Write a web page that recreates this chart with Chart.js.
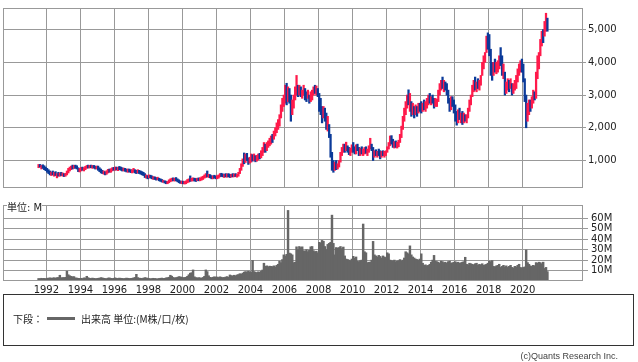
<!DOCTYPE html>
<html>
<head>
<meta charset="UTF-8">
<title>株価チャート</title>
<script src="https://cdn.jsdelivr.net/npm/chart.js@4.4.1/dist/chart.umd.min.js"></script>
<style>
body{margin:0;width:638px;height:362px;background:#fff;position:relative;overflow:hidden;font-family:"DejaVu Sans","Noto Sans CJK JP",sans-serif;color:#222;}
#price{position:absolute;left:0;top:0;}
#vol{position:absolute;left:0;top:196px;}
#unit{position:absolute;left:7px;top:202px;font-size:10px;line-height:11px;background:#fff;}
#legend{position:absolute;left:3px;top:294px;width:631px;height:52px;border:1px solid #333;box-sizing:border-box;font-size:10px;display:flex;align-items:center;padding-left:9px;padding-bottom:3px;font-family:"Noto Sans CJK JP",sans-serif;}
#legend .line{display:inline-block;width:28px;height:3px;background:#666;margin:0 6px 0 4px;}
#copy{position:absolute;right:20px;top:351px;font-size:9px;color:#444;font-family:"Liberation Sans",sans-serif;}
</style>
</head>
<body>
<canvas id="price" width="638" height="196"></canvas>
<canvas id="vol" width="638" height="100"></canvas>
<div id="unit">単位: M</div>
<div id="legend"><span>下段：</span><span class="line"></span><span>出来高 単位:(M株/口/枚)</span></div>
<div id="copy">(c)Quants Research Inc.</div>
<script>
// 月足 1991年7月〜2021年6月
const START_YEAR = 1991, START_MONTH = 7;

// 月ごとの安値
const lows = [
  780,800,740,760,720,690,
  640,600,560,540,560,520,540,470,520,520,540,520,
  510,520,560,620,680,720,740,760,760,740,660,650,
  680,700,680,720,760,770,770,780,760,770,740,740,
  700,660,620,600,580,560,580,620,640,640,680,700,
  700,710,690,720,700,680,680,670,650,640,650,630,
  620,640,620,600,620,600,580,560,540,480,460,440,
  470,460,440,420,420,400,410,380,360,340,330,310,
  290,290,320,350,370,380,370,380,350,320,300,290,
  290,280,290,320,340,360,370,380,370,360,380,380,
  380,400,420,460,480,500,480,470,440,440,460,440,
  440,460,500,510,500,480,500,490,500,480,490,500,
  500,510,490,520,600,700,820,900,940,1000,880,920,
  950,980,1000,960,980,1020,1050,1080,1150,1250,1250,1300,
  1400,1450,1500,1550,1650,1750,1850,1950,2050,2300,2500,2650,
  2750,2700,2800,2750,2200,2400,2600,2850,3000,2950,3000,2950,
  2900,3000,2850,2800,2900,2750,2800,2850,3000,3050,3000,2950,
  2500,2400,2150,2300,2200,1950,1900,1700,1100,700,640,700,
  720,740,800,950,1150,1250,1250,1300,1250,1180,1150,1250,
  1250,1200,1200,1300,1150,1150,1200,1150,1200,1220,1150,1250,
  1350,1300,1000,1100,1150,1100,1150,1050,1100,1150,1100,1150,
  1250,1350,1450,1500,1400,1380,1400,1380,1420,1550,1700,1950,
  2200,2400,2600,2700,2500,2350,2400,2300,2400,2350,2450,2500,
  2450,2500,2550,2500,2600,2700,2750,2700,2750,2600,2650,2650,
  2800,3000,3150,3200,3100,3150,3000,2750,2500,2550,2650,2450,
  2200,2080,2150,2250,2150,2100,2150,2200,2150,2300,2500,2700,
  2950,3100,3150,3100,3200,3150,3300,3600,3800,4000,4300,4400,
  4200,3600,3450,3600,3700,3650,3700,3800,3900,3600,3500,3000,
  3050,3150,3100,3200,3000,3050,3150,3200,3400,3600,3700,3700,
  3400,2800,2000,2200,2400,2500,2600,2750,2850,2900,3500,3800,
  4200,4500,4600,4800,4950,4950
];

// 月ごとの高値
const highs = [
  880,880,850,870,840,800,
  760,720,680,650,680,640,660,600,640,620,640,620,
  600,610,680,760,800,830,860,850,860,840,780,760,
  790,800,780,820,850,860,850,860,850,850,830,830,
  830,780,740,700,680,660,690,730,740,750,780,790,
  800,800,790,820,800,780,770,760,740,740,740,720,
  720,760,720,700,720,700,680,660,640,600,560,540,
  560,550,530,510,500,480,490,460,440,420,400,380,
  370,360,410,440,460,470,460,480,440,410,380,370,
  370,360,380,420,440,530,460,470,460,450,460,470,
  470,500,520,560,600,680,580,570,540,530,550,530,
  540,560,600,610,590,580,600,590,600,580,580,600,
  590,600,580,640,760,900,1050,1230,1200,1220,1080,1100,
  1200,1180,1200,1150,1160,1200,1220,1300,1400,1550,1500,1550,
  1600,1680,1750,1800,1900,2000,2150,2250,2400,2700,2900,3000,
  3300,3360,3250,3200,3000,2850,3000,3250,3600,3300,3300,3250,
  3150,3300,3200,3100,3150,3000,3100,3150,3250,3300,3280,3200,
  3050,2900,2650,2650,2600,2450,2350,2100,1800,1250,1000,950,
  1000,900,1000,1250,1400,1500,1500,1560,1450,1400,1380,1480,
  1550,1420,1480,1500,1400,1380,1420,1350,1400,1420,1350,1450,
  1680,1500,1400,1300,1330,1280,1350,1300,1280,1300,1280,1300,
  1420,1550,1750,1760,1650,1580,1600,1560,1620,1800,2050,2350,
  2600,2800,3000,3160,3050,2800,2750,2650,2700,2650,2750,2750,
  2800,2750,2850,2800,2900,3000,3050,2950,3000,2900,2900,2870,
  3150,3350,3450,3550,3450,3400,3350,3150,2900,2950,2950,2850,
  2700,2500,2550,2600,2450,2500,2450,2400,2400,2600,2850,3000,
  3300,3450,3550,3400,3500,3450,3600,4000,4200,4300,4800,4900,
  4850,4400,4000,4000,4100,4000,4050,4200,4450,4200,3950,3700,
  3400,3500,3450,3500,3350,3350,3450,3600,3800,3950,4050,4100,
  3950,3500,3000,2750,2850,2850,2950,3150,3100,3700,4200,4300,
  4700,4950,5000,5250,5500,5350
];

// 陽線=1 陰線=0
const ups = [
  1,0,1,0,0,0,
  0,0,0,1,0,1,0,1,0,1,0,1,
  0,1,1,1,1,1,0,1,0,0,0,1,
  1,0,1,1,1,0,1,0,1,0,0,1,
  0,0,0,0,1,0,1,1,0,1,1,0,
  1,0,1,0,0,0,1,0,0,1,0,0,
  1,1,0,0,1,0,0,0,0,0,1,0,
  1,0,0,1,0,0,1,0,0,0,1,0,
  0,1,1,1,1,0,1,0,0,0,0,1,
  0,1,1,1,1,0,1,1,0,0,1,0,
  1,1,1,1,1,0,1,0,0,1,0,0,
  1,1,1,0,0,1,0,1,0,0,1,0,
  1,0,1,1,1,1,1,0,1,0,0,1,
  1,0,1,0,1,1,0,1,1,1,0,1,
  1,1,1,0,1,1,1,1,1,1,1,1,
  1,0,1,0,0,1,1,1,1,0,1,0,
  1,1,0,0,1,0,1,1,1,0,1,0,
  0,0,0,1,0,0,1,0,0,0,0,1,
  0,1,1,1,1,1,0,1,0,0,1,1,
  0,0,1,0,0,1,0,1,1,0,1,1,
  1,0,0,1,0,1,0,0,1,0,1,1,
  1,1,1,0,0,1,0,1,1,1,1,1,
  1,1,1,0,1,0,1,0,1,0,1,0,
  0,1,0,1,1,1,0,1,0,0,1,1,
  1,1,1,0,1,0,0,0,0,1,0,0,
  0,0,1,0,1,0,1,0,1,1,1,1,
  1,1,0,1,0,1,1,1,1,1,1,0,
  0,0,0,1,0,1,1,1,0,0,1,0,
  1,1,0,1,0,1,1,1,1,1,1,0,
  0,0,0,1,1,0,1,1,0,1,1,1,
  1,1,0,1,1,0
];

// 出来高 (M)
const volumes = [
  2.4,2.2,2.6,2.4,2.5,2.3,
  2.6,2.8,3.0,2.7,2.9,3.1,2.8,3.2,3.4,5.5,3.1,3.3,
  3.2,3.5,9.4,6.0,5.0,4.5,4.0,4.2,3.0,2.8,2.6,2.5,
  2.6,2.4,3.0,2.8,4.5,3.2,2.6,2.4,2.8,2.5,2.3,2.4,
  2.6,2.8,3.2,3.0,2.6,2.4,2.3,2.8,3.0,2.5,2.4,2.6,
  3.0,2.6,2.4,2.8,2.6,2.5,2.3,2.4,2.8,2.6,2.4,2.5,
  2.6,3.0,3.4,6.4,3.2,2.8,2.6,2.4,2.8,3.2,3.0,2.6,
  2.4,2.2,2.3,2.6,2.4,2.2,2.1,2.4,2.6,2.8,2.5,2.6,
  3.0,3.2,3.6,5.5,4.6,3.4,3.0,3.2,3.6,4.2,4.0,3.6,
  3.2,3.4,3.6,4.5,6.0,7.5,8.0,10.6,4.0,3.2,3.0,3.2,
  3.0,2.8,3.4,4.5,10.6,9.0,5.0,3.5,3.2,3.6,4.0,3.8,
  3.8,3.4,4.0,3.6,3.2,3.4,3.8,4.2,3.6,5.8,5.2,4.8,
  5.5,5.0,5.8,6.2,7.0,6.5,7.5,8.5,9.0,8.6,9.4,8.8,
  8.5,19.7,9.0,8.5,8.0,8.8,8.4,9.2,10.5,17.0,14.0,14.5,
  13.6,14.2,14.0,13.8,14.5,13.5,15.0,16.0,19.0,17.5,20.5,25.0,
  24.0,25.5,67.5,26.7,26.0,25.0,17.6,18.0,32.7,30.0,33.0,32.0,
  32.7,29.0,28.5,30.0,28.0,29.5,32.7,33.0,29.0,28.0,28.5,27.0,
  37.0,36.5,38.8,38.0,33.0,30.0,35.0,36.0,37.0,63.0,36.0,25.0,
  32.0,31.5,32.0,33.0,31.0,32.5,24.0,21.0,20.6,20.0,19.5,21.0,
  23.6,22.0,23.0,19.0,18.5,19.5,20.0,54.5,28.0,27.0,17.6,18.0,
  18.0,20.0,37.9,25.0,24.0,23.0,24.5,23.5,22.0,24.0,23.0,22.5,
  27.0,26.0,20.0,19.5,19.0,20.0,18.5,19.0,19.5,20.5,19.0,20.0,
  22.0,28.0,27.0,26.0,33.6,25.0,23.0,22.0,21.0,20.6,20.0,21.0,
  26.0,17.0,15.0,15.5,14.5,15.0,16.0,18.0,20.0,24.5,19.0,18.5,
  18.0,17.0,19.0,18.5,17.5,18.0,17.0,18.5,19.0,17.0,17.5,18.0,
  18.5,17.6,18.0,17.0,17.5,18.0,18.5,22.7,16.0,15.5,17.0,16.5,
  16.0,15.5,16.5,17.0,15.0,16.0,15.5,16.5,15.0,15.5,16.0,17.0,
  19.0,18.5,19.5,14.0,13.5,14.5,15.0,16.0,13.0,14.0,15.0,13.5,
  14.5,13.0,14.0,15.0,13.0,12.5,14.0,13.5,15.0,16.0,13.0,12.5,
  13.0,13.5,29.7,17.6,16.0,14.5,14.0,15.0,14.5,17.6,17.0,18.0,
  17.6,16.5,18.0,12.0,13.0,9.0
];

const yearTicks = [1992,1994,1996,1998,2000,2002,2004,2006,2008,2010,2012,2014,2016,2018,2020];
const priceTicks = [1000,2000,3000,4000,5000];
const volTicks = [10,20,30,40,50,60];

const UP = '#ff1a4b', DOWN = '#0b3a99', GRID = '#999', VOLC = '#666';
const X_MIN = 1989.45, X_MAX = 2023.55;
const tickFont = {family:'"DejaVu Sans", sans-serif', size:10};

function monthX(i){ return START_YEAR + (START_MONTH - 1 + i + 0.5) / 12; }

// 枠線
const frame = {
  id:'frame',
  afterDraw(c){
    const a = c.chartArea, ctx = c.ctx;
    ctx.save();
    ctx.strokeStyle = GRID;
    ctx.lineWidth = 1;
    ctx.strokeRect(Math.round(a.left)+0.5, Math.round(a.top)+0.5, Math.round(a.right-a.left)-1, Math.round(a.bottom-a.top)-1);
    ctx.restore();
  }
};

const xBase = {
  type:'linear', min:X_MIN, max:X_MAX, offset:false,
  afterBuildTicks: s => { s.ticks = yearTicks.map(v=>({value:v})); },
  grid:{color:GRID, drawTicks:false, offset:false},
  border:{display:false}
};

new Chart(document.getElementById('price'), {
  type:'bar',
  data:{datasets:[{
    data: lows.map((lo,i)=>({x:monthX(i), y:[lo, highs[i]]})),
    backgroundColor: ups.map(u=>u?UP:DOWN),
    barThickness:1.6
  }]},
  options:{
    responsive:false, animation:false, events:[],
    layout:{padding:{left:3, top:1, right:0, bottom:6}},
    plugins:{legend:{display:false}, tooltip:{enabled:false}},
    scales:{
      x:Object.assign({}, xBase, {ticks:{display:false}, afterFit: s=>{ s.height = 0; }}),
      y:{
        position:'right', min:160, max:5660,
        afterBuildTicks: s => { s.ticks = priceTicks.map(v=>({value:v})); },
        ticks:{callback:v=>v.toLocaleString('en-US'), font:tickFont, color:'#222', padding:2},
        grid:{color:GRID, tickLength:3},
        border:{display:false},
        afterFit: s => { s.width = 55; }
      }
    }
  },
  plugins:[frame]
});

new Chart(document.getElementById('vol'), {
  type:'bar',
  data:{datasets:[{
    data: volumes.map((v,i)=>({x:monthX(i), y:v})),
    backgroundColor: VOLC,
    barThickness:1.8
  }]},
  options:{
    responsive:false, animation:false, events:[],
    layout:{padding:{left:3, top:5, right:0, bottom:0}},
    plugins:{legend:{display:false}, tooltip:{enabled:false}},
    scales:{
      x:Object.assign({}, xBase, {
        ticks:{font:tickFont, color:'#222', padding:3, maxRotation:0, autoSkip:false, callback:v=>String(v)},
        afterFit: s=>{ s.height = 15; }
      }),
      y:{
        position:'right', min:0, max:72.7,
        afterBuildTicks: s => { s.ticks = volTicks.map(v=>({value:v})); },
        ticks:{callback:v=>v+'M', font:tickFont, color:'#222', padding:3},
        grid:{color:GRID, tickLength:5},
        border:{display:false},
        afterFit: s => { s.width = 55; }
      }
    }
  },
  plugins:[frame]
});
</script>
</body>
</html>
